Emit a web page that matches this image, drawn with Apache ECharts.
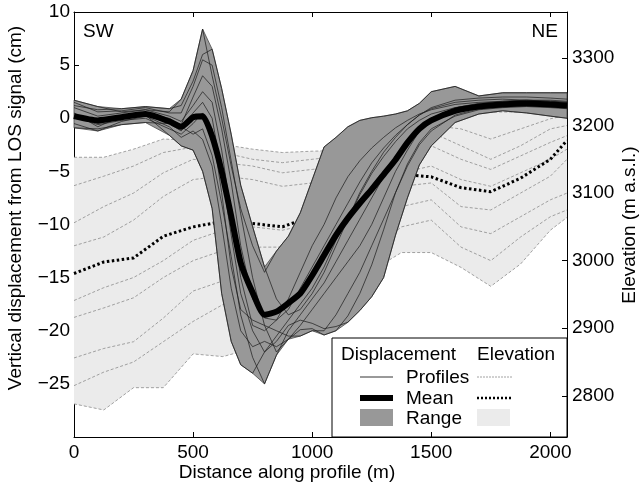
<!DOCTYPE html>
<html>
<head>
<meta charset="utf-8">
<script src="https://cdn.jsdelivr.net/npm/echarts@6/dist/echarts.min.js"></script>
<style>
html,body{margin:0;padding:0;background:#fff;}
#chart{width:639px;height:487px;}
</style>
</head>
<body>
<div id="chart"></div>
<script>
// displacement profiles (cm), sampled along the profile (m)
var dispX = [0,100,200,300,400,450,500,540,580,620,660,700,750,800,850,900,950,1000,1050,1100,1150,1200,1250,1300,1350,1400,1450,1500,1600,1700,1800,1900,2000,2070];
var dispMean = [0.2,-0.2,0.1,0.4,-0.3,-0.8,0.1,0.2,-1.7,-5.0,-9.2,-13.6,-16.4,-18.5,-18.2,-17.4,-16.5,-14.8,-12.9,-11.0,-9.4,-8.0,-6.7,-5.3,-3.9,-2.3,-1.0,-0.2,0.7,1.1,1.3,1.4,1.3,1.2];
var disp1 = [0.5,-0.8,0.2,0.3,-1.6,-2.6,-3.0,-5.0,-8.5,-16.5,-21.0,-23.2,-24.0,-22.0,-20.5,-19.0,-17.5,-16.0,-14.0,-11.5,-9.5,-7.2,-5.2,-3.6,-2.2,-1.0,-0.2,0.4,1.0,1.2,1.3,1.3,1.2,1.1];
var disp2 = [-0.5,-1.2,-0.3,0.2,-0.8,-1.8,-1.2,-2.0,-4.5,-10.0,-16.0,-20.0,-21.5,-21.0,-21.5,-20.8,-19.9,-19.8,-20.4,-20.0,-18.6,-16.5,-13.8,-10.5,-7.0,-4.3,-2.3,-1.0,0.2,0.8,1.0,1.1,1.0,0.9];
var disp3 = [0.0,-0.3,0.3,0.5,0.0,-0.8,-1.5,-1.0,-3.5,-8.0,-13.0,-18.5,-22.5,-25.0,-22.3,-20.0,-18.5,-17.0,-15.5,-13.5,-11.5,-9.5,-7.5,-5.5,-3.6,-2.0,-0.8,0.0,0.8,1.1,1.3,1.4,1.4,1.3];
var disp4 = [-0.9,-1.0,-0.6,-0.4,-0.5,-1.2,0.5,1.5,0.0,-5.0,-11.0,-16.5,-20.0,-22.0,-21.0,-19.5,-19.0,-19.3,-19.8,-19.6,-19.2,-18.1,-16.8,-15.0,-11.0,-7.5,-4.4,-2.6,-0.4,0.4,0.7,0.5,0.2,0.0];
var disp5 = [1.0,0.2,0.5,0.8,0.2,-0.3,1.2,2.5,1.5,-3.0,-9.0,-15.0,-19.5,-20.0,-19.0,-17.0,-14.5,-12.0,-10.0,-7.5,-5.5,-4.0,-2.8,-1.8,-0.9,-0.2,0.4,0.8,1.3,1.5,1.6,1.7,1.6,1.5];
var disp6 = [0.3,-0.5,0.0,0.6,-0.2,-0.6,2.0,4.0,3.0,-1.0,-6.0,-12.0,-17.0,-18.8,-19.0,-18.0,-16.0,-14.0,-12.0,-10.0,-8.0,-6.0,-4.2,-2.8,-1.6,-0.6,0.3,0.9,1.5,1.7,1.8,1.7,1.6,1.5];
var disp7 = [1.5,0.6,0.7,1.0,0.5,0.5,3.0,5.5,5.0,1.0,-4.0,-9.0,-15.0,-19.5,-22.0,-20.8,-19.5,-18.0,-16.5,-15.0,-13.5,-12.0,-10.0,-7.5,-5.0,-3.0,-1.2,0.0,1.0,1.4,1.6,1.7,1.7,1.6];
var disp8 = [1.2,0.8,0.9,1.1,0.9,1.2,3.5,6.0,6.5,2.8,-1.5,-6.3,-10.2,-14.0,-17.0,-18.5,-18.0,-16.5,-14.5,-12.0,-9.5,-7.0,-5.0,-3.2,-1.8,-0.6,0.3,1.0,1.7,1.9,2.0,2.0,1.9,1.8];
var disp9 = [1.7,1.1,0.6,0.8,0.6,1.8,4.5,8.4,4.0,0.0,-4.5,-8.5,-12.0,-14.5,-12.5,-11.1,-8.9,-5.8,-2.7,-1.8,-0.8,-0.2,0.05,0.2,0.4,0.7,1.4,2.5,3.0,2.1,2.4,2.4,2.4,2.4];
var disp10 = [0.2,-0.6,-0.2,0.0,-1.0,-1.5,-0.5,0.5,-1.0,-7.0,-14.0,-18.0,-19.0,-19.5,-20.0,-20.5,-20.5,-20.0,-20.0,-18.5,-16.5,-14.5,-12.0,-9.5,-7.0,-4.5,-2.5,-1.2,0.3,0.9,1.1,1.2,1.1,1.0];

// elevation profiles (m a.s.l.)
var elevX = [0,125,250,375,500,625,750,875,1000,1125,1250,1375,1500,1625,1750,1875,2000,2070];
var elevMean = [2981,2998,3004,3036,3050,3058,3055,3050,3066,3085,3105,3128,3124,3108,3102,3122,3150,3178];
var elev1 = [3153,3153,3165,3180,3178,3172,3165,3160,3162,3163,3175,3192,3210,3218,3220,3220,3222,3225];
var elev2 = [3111,3125,3140,3160,3168,3160,3150,3145,3150,3155,3165,3185,3200,3195,3180,3195,3210,3215];
var elev3 = [3056,3080,3100,3130,3150,3145,3140,3130,3135,3140,3155,3175,3190,3170,3150,3170,3195,3200];
var elev4 = [3022,3035,3060,3095,3120,3125,3120,3110,3115,3125,3140,3160,3170,3150,3135,3155,3175,3185];
var elev5 = [2941,2960,2975,3000,3030,3045,3050,3045,3055,3075,3100,3130,3140,3120,3110,3130,3150,3165];
var elev6 = [2916,2930,2945,2975,3000,3015,3020,3020,3035,3060,3085,3110,3115,3080,3075,3100,3125,3150];
var elev7 = [2856,2870,2880,2915,2955,2970,2975,2975,2990,3020,3050,3080,3090,3050,3040,3065,3090,3100];
var elev8 = [2815,2835,2850,2880,2910,2935,2940,2945,2960,2990,3015,3050,3060,3020,3000,3035,3065,3075];
var elev9 = [2788,2779,2812,2812,2862,2858,2870,2880,2900,2950,2985,3012,3012,2990,2962,2995,3045,3064];

// tick labels
var xTicks = [0,500,1000,1500,2000];
var dispTicks = [-30,-25,-20,-15,-10,-5,0,5,10];
var dispLabels = [-25,-20,-15,-10,-5,0,5,10];
var elevTicks = [2800,2900,3000,3100,3200,3300];

var dispProfiles = [disp1,disp2,disp3,disp4,disp5,disp6,disp7,disp8,disp9,disp10];
var elevProfiles = [elev1,elev2,elev3,elev4,elev5,elev6,elev7,elev8,elev9];

var font = '"Liberation Sans", Arial, Helvetica, sans-serif';
var fs = 19;

function pairs(xs, ys) {
	return xs.map(function(x, i) { return [x, ys[i]]; });
}

// range = min/max of the profiles at each distance
function rangeOf(xs, list) {
	return xs.map(function(x, i) {
		var v = list.map(function(a) { return a[i]; });
		return [x, Math.min.apply(null, v), Math.max.apply(null, v)];
	});
}

function bandSeries(data, yIndex, fill, stroke, z) {
	return {
		type: 'custom', xAxisIndex: 0, yAxisIndex: yIndex, silent: true, z: z,
		data: data, encode: {x: 0, y: [1, 2]},
		renderItem: function(params, api) {
			if (params.dataIndex !== 0) return;
			var top = data.map(function(d) { return api.coord([d[0], d[2]]); });
			var bot = data.map(function(d) { return api.coord([d[0], d[1]]); }).reverse();
			return {
				type: 'polygon',
				shape: {points: top.concat(bot)},
				style: {fill: fill, stroke: stroke, lineWidth: stroke ? 0.8 : 0}
			};
		}
	};
}

function plain(v) {
	return v < 0 ? '\u2212' + (-v) : String(v);
}

var series = [];
series.push(bandSeries(rangeOf(elevX, elevProfiles), 1, '#ebebeb', null, 1));
elevProfiles.forEach(function(p) {
	series.push({type: 'line', yAxisIndex: 1, z: 2, data: pairs(elevX, p), symbol: 'none', silent: true,
		lineStyle: {color: '#8c8c8c', width: 0.8, type: [3, 2]}});
});
series.push({type: 'line', yAxisIndex: 1, z: 3, data: pairs(elevX, elevMean), symbol: 'none', silent: true,
	lineStyle: {color: '#000', width: 3, type: [2.5, 2.5]}});
series.push(bandSeries(rangeOf(dispX, dispProfiles), 0, '#989898', '#4a4a4a', 4));
dispProfiles.forEach(function(p) {
	series.push({type: 'line', yAxisIndex: 0, z: 5, data: pairs(dispX, p), symbol: 'none', silent: true,
		lineStyle: {color: '#1a1a1a', width: 0.7}});
});
series.push({type: 'line', yAxisIndex: 0, z: 6, data: pairs(dispX, dispMean), symbol: 'none', silent: true, smooth: 0.2,
	lineStyle: {color: '#000', width: 6, join: 'round'}});

var axisLine = {show: true, onZero: false, lineStyle: {color: '#000', width: 1}};
var tickStyle = {color: '#000', width: 1};
var labelStyle = {color: '#000', fontSize: fs, fontFamily: font, formatter: plain};

var lx = 332, ly = 338;
var legendGraphics = [
	{type: 'rect', shape: {x: lx, y: ly, width: 235, height: 99}, style: {fill: '#fff', stroke: '#000', lineWidth: 1}},
	{type: 'text', x: 341, y: 355, style: {text: 'Displacement', font: fs + 'px ' + font, fill: '#000', verticalAlign: 'middle'}},
	{type: 'text', x: 477, y: 355, style: {text: 'Elevation', font: fs + 'px ' + font, fill: '#000', verticalAlign: 'middle'}},
	{type: 'line', shape: {x1: 360, y1: 377, x2: 393, y2: 377}, style: {stroke: '#000', lineWidth: 0.8}},
	{type: 'text', x: 406, y: 378, style: {text: 'Profiles', font: fs + 'px ' + font, fill: '#000', verticalAlign: 'middle'}},
	{type: 'line', shape: {x1: 360, y1: 398, x2: 393, y2: 398}, style: {stroke: '#000', lineWidth: 6}},
	{type: 'text', x: 406, y: 399, style: {text: 'Mean', font: fs + 'px ' + font, fill: '#000', verticalAlign: 'middle'}},
	{type: 'rect', shape: {x: 360, y: 409, width: 33, height: 17}, style: {fill: '#989898'}},
	{type: 'text', x: 406, y: 419, style: {text: 'Range', font: fs + 'px ' + font, fill: '#000', verticalAlign: 'middle'}},
	{type: 'line', shape: {x1: 477, y1: 377, x2: 512, y2: 377}, style: {stroke: '#8c8c8c', lineWidth: 0.8, lineDash: [2, 1]}},
	{type: 'line', shape: {x1: 477, y1: 398, x2: 512, y2: 398}, style: {stroke: '#000', lineWidth: 2.5, lineDash: [2, 2]}},
	{type: 'rect', shape: {x: 477, y: 409, width: 33, height: 17}, style: {fill: '#ebebeb'}}
];

var textGraphics = [
	{type: 'text', x: 83, y: 32, style: {text: 'SW', font: fs + 'px ' + font, fill: '#000', verticalAlign: 'middle'}},
	{type: 'text', x: 558, y: 32, style: {text: 'NE', font: fs + 'px ' + font, fill: '#000', align: 'right', verticalAlign: 'middle'}},
	{type: 'text', x: 287, y: 473, style: {text: 'Distance along profile (m)', font: fs + 'px ' + font, fill: '#000', align: 'center', verticalAlign: 'middle'}},
	{type: 'text', x: 16, y: 208, rotation: Math.PI / 2, style: {text: 'Vertical displacement from LOS signal (cm)', font: fs + 'px ' + font, fill: '#000', align: 'center', verticalAlign: 'middle'}},
	{type: 'text', x: 630, y: 225, rotation: Math.PI / 2, style: {text: 'Elevation (m a.s.l.)', font: fs + 'px ' + font, fill: '#000', align: 'center', verticalAlign: 'middle'}}
];

var option = {
	animation: false,
	backgroundColor: '#fff',
	grid: {left: 74, right: 72, top: 12, bottom: 50, containLabel: false},
	xAxis: [
		{type: 'value', min: 0, max: 2070, position: 'bottom', axisLine: axisLine,
			axisTick: {inside: true, length: 5, lineStyle: tickStyle, customValues: xTicks},
			axisLabel: Object.assign({margin: 6, customValues: xTicks}, labelStyle),
			splitLine: {show: false}},
		{type: 'value', min: 0, max: 2070, position: 'top', axisLine: axisLine,
			axisTick: {inside: true, length: 5, lineStyle: tickStyle, customValues: xTicks},
			axisLabel: {show: false}, splitLine: {show: false}}
	],
	yAxis: [
		{type: 'value', min: -30, max: 10, position: 'left', axisLine: axisLine,
			axisTick: {inside: true, length: 5, lineStyle: tickStyle, customValues: dispTicks},
			axisLabel: Object.assign({margin: 4, customValues: dispLabels}, labelStyle),
			splitLine: {show: false}},
		{type: 'value', min: 2739, max: 3368, position: 'right', axisLine: axisLine,
			axisTick: {inside: true, length: 5, lineStyle: tickStyle, customValues: elevTicks},
			axisLabel: Object.assign({margin: 5, customValues: elevTicks}, labelStyle),
			splitLine: {show: false}}
	],
	graphic: legendGraphics.concat(textGraphics),
	series: series
};

var myChart = echarts.init(document.getElementById('chart'));
myChart.setOption(option);
</script>
</body>
</html>
